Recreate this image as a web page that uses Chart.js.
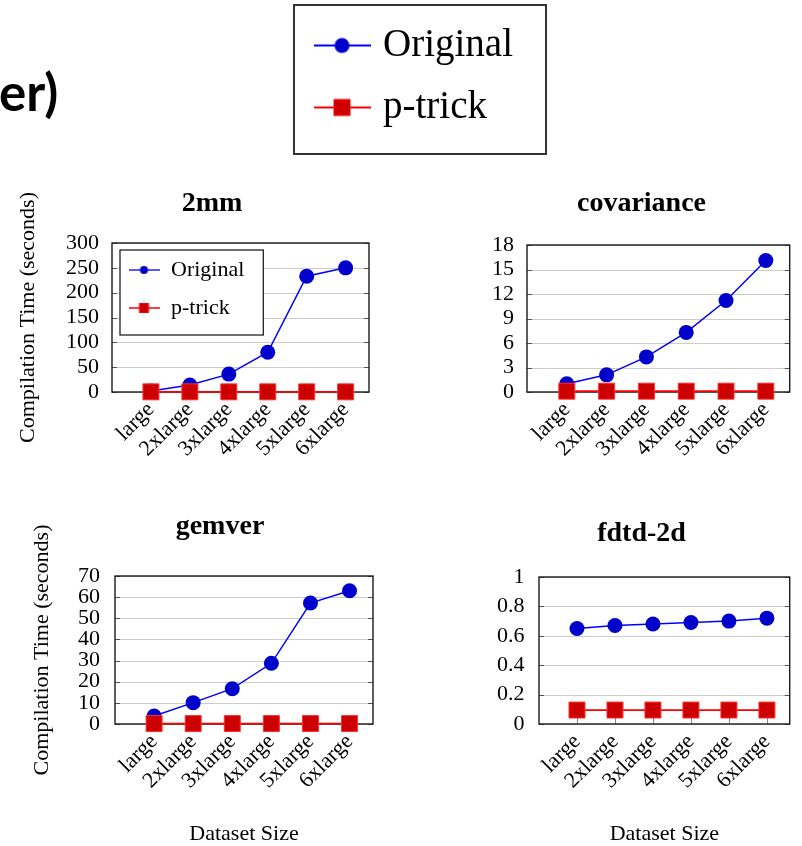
<!DOCTYPE html>
<html>
<head>
<meta charset="utf-8">
<script src="https://cdn.jsdelivr.net/npm/chart.js@4.4.1/dist/chart.umd.min.js"></script>
<style>
  html, body { margin: 0; padding: 0; background: #fff; overflow: hidden; }
  body { width: 802px; height: 846px; position: relative; }
  .panel { position: absolute; }
  #heading { position: absolute; left: -1px; top: 66px; font: 700 51px Lato, "Open Sans", sans-serif; color: #000; line-height: 1; }
</style>
</head>
<body>
<div id="heading">er)</div>
<div class="panel" style="left:292px;top:3px;width:256px;height:153px"><canvas id="legendTop"></canvas></div>
<div class="panel" style="left:0;top:180px;width:424px;height:300px"><canvas id="c2mm"></canvas></div>
<div class="panel" style="left:481px;top:180px;width:321px;height:300px"><canvas id="cCov"></canvas></div>
<div class="panel" style="left:0;top:500px;width:440px;height:346px"><canvas id="cGemver"></canvas></div>
<div class="panel" style="left:481px;top:500px;width:321px;height:346px"><canvas id="cFdtd"></canvas></div>
<script>
// dataset sizes on the x axis, series names
const sizes = ["large", "2xlarge", "3xlarge", "4xlarge", "5xlarge", "6xlarge"]
const seriesNames = ["Original", "p-trick"]

// compilation time (seconds)
const mm2Original = [2, 14, 36, 80, 233, 250]
const mm2Ptrick = [0.3, 0.3, 0.3, 0.3, 0.3, 0.3]
const mm2YTicks = [0, 50, 100, 150, 200, 250, 300]

const covOriginal = [1.0, 2.1, 4.3, 7.3, 11.2, 16.1]
const covPtrick = [0.1, 0.1, 0.1, 0.1, 0.1, 0.1]
const covYTicks = [0, 3, 6, 9, 12, 15, 18]

const gemverOriginal = [3.8, 10.1, 16.7, 28.7, 57.2, 63.0]
const gemverPtrick = [0.2, 0.2, 0.2, 0.2, 0.2, 0.2]
const gemverYTicks = [0, 10, 20, 30, 40, 50, 60, 70]

const fdtdOriginal = [0.65, 0.67, 0.68, 0.69, 0.70, 0.72]
const fdtdPtrick = [0.095, 0.095, 0.095, 0.095, 0.095, 0.095]
const fdtdYTicks = [0, 0.2, 0.4, 0.6, 0.8, 1]

const SERIF = "'Liberation Serif', 'Times New Roman', serif"
const BLUE = "#0000ff", BLUE_FILL = "#0000cc"
const RED = "#ff0000", RED_FILL = "#cc0000"

// little line+marker glyph for the legends
function symbol(width, height, color, fill, marker, size, lineWidth) {
  const c = document.createElement("canvas")
  c.width = width
  c.height = height
  const g = c.getContext("2d")
  g.strokeStyle = color
  g.lineWidth = lineWidth
  g.beginPath()
  g.moveTo(0, height / 2)
  g.lineTo(width, height / 2)
  g.stroke()
  g.fillStyle = fill
  if (marker === "circle") {
    g.beginPath()
    g.arc(width / 2, height / 2, size / 2, 0, Math.PI * 2)
    g.fill()
  } else {
    g.fillRect(width / 2 - size / 2, height / 2 - size / 2, size, size)
    g.lineWidth = 1
    g.strokeRect(width / 2 - size / 2, height / 2 - size / 2, size, size)
  }
  return c
}

function legendLabels(symbols) {
  return chart => Chart.defaults.plugins.legend.labels.generateLabels(chart)
    .map(item => Object.assign(item, { pointStyle: symbols[item.datasetIndex] }))
}

const toPoints = values => values.map((v, i) => ({ x: i, y: v }))

function seriesDatasets(original, ptrick) {
  return [
    {
      label: seriesNames[0], data: toPoints(original), order: 1, clip: false,
      borderColor: BLUE, borderWidth: 1.5,
      pointStyle: "circle", pointRadius: 7.5, pointHoverRadius: 7.5,
      pointBackgroundColor: BLUE_FILL, pointBorderColor: BLUE_FILL, pointBorderWidth: 0
    },
    {
      label: seriesNames[1], data: toPoints(ptrick), order: 0, clip: false,
      borderColor: RED, borderWidth: 1.8,
      pointStyle: "rect", pointRadius: 11.3, pointHoverRadius: 11.3,
      pointBackgroundColor: RED_FILL, pointBorderColor: "#ff3030", pointBorderWidth: 1
    }
  ]
}

// grid + frame + inner tick marks, pgfplots style
const framePlugin = {
  id: "frame",
  afterLayout(chart) {
    // pin the inner legend to the plot area
    const lg = chart.legend
    if (lg && lg.options.display && lg.options.position === "chartArea") {
      const a = chart.chartArea
      lg.left = a.left
      lg.top = a.top
      lg.right = a.right
      lg.bottom = a.bottom
    }
  },
  beforeDraw(chart) {
    const { ctx, chartArea: a } = chart
    const y = chart.scales.y
    ctx.save()
    ctx.strokeStyle = "#cccccc"
    ctx.lineWidth = 1
    y.ticks.forEach(t => {
      const py = Math.round(y.getPixelForValue(t.value)) + 0.5
      ctx.beginPath()
      ctx.moveTo(a.left, py)
      ctx.lineTo(a.right, py)
      ctx.stroke()
    })
    const lg = chart.legend
    if (lg && lg.options.display && lg.legendHitBoxes.length) {
      const hb = lg.legendHitBoxes
      const left = Math.min(...hb.map(h => h.left)) - 8
      const top = Math.min(...hb.map(h => h.top)) - 9
      const right = Math.max(...hb.map(h => h.left + h.width)) + 19
      const bottom = Math.max(...hb.map(h => h.top + h.height)) + 16
      ctx.fillStyle = "#fff"
      ctx.fillRect(left, top, right - left, bottom - top)
      ctx.strokeStyle = "#222"
      ctx.lineWidth = 1.3
      ctx.strokeRect(left, top, right - left, bottom - top)
    }
    ctx.restore()
  },
  beforeDatasetsDraw(chart) {
    const { ctx, chartArea: a } = chart
    const { x, y } = chart.scales
    ctx.save()
    ctx.strokeStyle = "#555"
    ctx.lineWidth = 1
    y.ticks.forEach(t => {
      const py = Math.round(y.getPixelForValue(t.value)) + 0.5
      ctx.beginPath()
      ctx.moveTo(a.left, py); ctx.lineTo(a.left + 5, py)
      ctx.moveTo(a.right, py); ctx.lineTo(a.right - 5, py)
      ctx.stroke()
    })
    ctx.strokeStyle = "#888"
    x.ticks.forEach(t => {
      const px = Math.round(x.getPixelForValue(t.value)) + 0.5
      ctx.beginPath()
      ctx.moveTo(px, a.bottom); ctx.lineTo(px, a.bottom - 7)
      ctx.stroke()
    })
    ctx.strokeStyle = "#1a1a1a"
    ctx.lineWidth = 1.4
    ctx.strokeRect(a.left, a.top, a.right - a.left, a.bottom - a.top)
    ctx.restore()
  }
}

function panel(id, p) {
  const innerSymbols = [
    symbol(31, 12, BLUE, BLUE_FILL, "circle", 8, 1.3),
    symbol(31, 12, RED, RED_FILL, "rect", 9, 1.5)
  ]
  return new Chart(document.getElementById(id), {
    type: "line",
    data: { datasets: seriesDatasets(p.original, p.ptrick) },
    options: {
      responsive: true,
      maintainAspectRatio: false,
      animation: false,
      events: [],
      layout: { padding: 0 },
      scales: {
        x: {
          type: "linear", min: -1, max: 5.6,
          afterBuildTicks: s => { s.ticks = sizes.map((_, i) => ({ value: i })) },
          afterFit: s => { s.height = p.xHeight },
          grid: { display: false, drawTicks: false },
          border: { display: false },
          ticks: {
            autoSkip: false, minRotation: 45, maxRotation: 45, padding: 5,
            color: "#000", font: { family: SERIF, size: 22 },
            callback: v => sizes[v]
          },
          title: {
            display: p.xTitle, text: "Dataset Size", color: "#000",
            font: { family: SERIF, size: 22, lineHeight: 1 }, padding: { top: 0, bottom: 0.4 }
          }
        },
        y: {
          min: p.yTicks[0], max: p.yTicks[p.yTicks.length - 1],
          afterBuildTicks: s => { s.ticks = p.yTicks.map(v => ({ value: v })) },
          afterFit: s => { s.width = p.yWidth },
          grid: { display: false, drawTicks: false },
          border: { display: false },
          ticks: {
            autoSkip: false, padding: p.tickPad, color: "#000", font: { family: SERIF, size: 22 },
            callback: v => String(+v.toFixed(2))
          },
          title: {
            display: p.yTitlePad != null, text: "Compilation Time (seconds)", color: "#000",
            font: { family: SERIF, size: 22 }, padding: { top: p.yTitlePad || 0, bottom: 0 }
          }
        },
        // empty spacer on the right so the title centres on the whole panel
        yRight: {
          position: "right", display: true,
          grid: { display: false, drawTicks: false },
          border: { display: false },
          ticks: { display: false },
          afterFit: s => { s.width = p.padRight }
        }
      },
      plugins: {
        tooltip: { enabled: false },
        title: {
          display: true, text: p.title, color: "#000",
          font: { family: SERIF, size: 28, weight: "bold" },
          padding: { top: p.titleTop, bottom: p.titleBottom }
        },
        legend: p.legend ? {
          display: true, position: "chartArea", align: "start",
          labels: {
            usePointStyle: true, pointStyleWidth: 32, padding: 16, color: "#000",
            font: { family: SERIF, size: 22 },
            generateLabels: legendLabels(innerSymbols),
            sort: (a, b) => a.datasetIndex - b.datasetIndex
          }
        } : { display: false }
      }
    },
    plugins: [framePlugin]
  })
}

panel("c2mm", {
  title: "2mm", original: mm2Original, ptrick: mm2Ptrick, yTicks: mm2YTicks,
  yWidth: 112, padRight: 55, xHeight: 88, tickPad: 13, titleTop: 6.7, titleBottom: 22.7,
  yTitlePad: 15.4, xTitle: false, legend: true
})
panel("cCov", {
  title: "covariance", original: covOriginal, ptrick: covPtrick, yTicks: covYTicks,
  yWidth: 46, padRight: 1, xHeight: 88, tickPad: 13, titleTop: 6.7, titleBottom: 24.7,
  yTitlePad: null, xTitle: false, legend: false
})
panel("cGemver", {
  title: "gemver", original: gemverOriginal, ptrick: gemverPtrick, yTicks: gemverYTicks,
  yWidth: 115, padRight: 67, xHeight: 122, tickPad: 15, titleTop: 9.7, titleBottom: 32.7,
  yTitlePad: 28.8, xTitle: true, legend: false
})
panel("cFdtd", {
  title: "fdtd-2d", original: fdtdOriginal, ptrick: fdtdPtrick, yTicks: fdtdYTicks,
  yWidth: 58, padRight: 5, xHeight: 122, tickPad: 14.5, titleTop: 16.7, titleBottom: 26.7,
  yTitlePad: null, xTitle: true, legend: false
})

// shared legend at the top of the figure
const topSymbols = [
  symbol(57, 20, BLUE, BLUE_FILL, "circle", 15, 2),
  symbol(57, 20, RED, RED_FILL, "rect", 16, 2)
]
const boxPlugin = {
  id: "legendBox",
  beforeDraw(chart) {
    const { ctx, width, height } = chart
    ctx.save()
    ctx.strokeStyle = "#333"
    ctx.lineWidth = 2
    ctx.strokeRect(2, 2, width - 4, height - 4)
    ctx.restore()
  }
}
new Chart(document.getElementById("legendTop"), {
  type: "line",
  data: { datasets: seriesDatasets([], []) },
  options: {
    responsive: true,
    maintainAspectRatio: false,
    animation: false,
    events: [],
    layout: { padding: { left: 5.5, top: 0 } },
    scales: { x: { display: false }, y: { display: false } },
    plugins: {
      tooltip: { enabled: false },
      title: { display: false },
      legend: {
        position: "chartArea", align: "start",
        labels: {
          usePointStyle: true, pointStyleWidth: 43, padding: 23, color: "#000",
          font: { family: SERIF, size: 39 },
          generateLabels: legendLabels(topSymbols),
          sort: (a, b) => a.datasetIndex - b.datasetIndex
        }
      }
    }
  },
  plugins: [boxPlugin]
})
</script>
</body>
</html>
